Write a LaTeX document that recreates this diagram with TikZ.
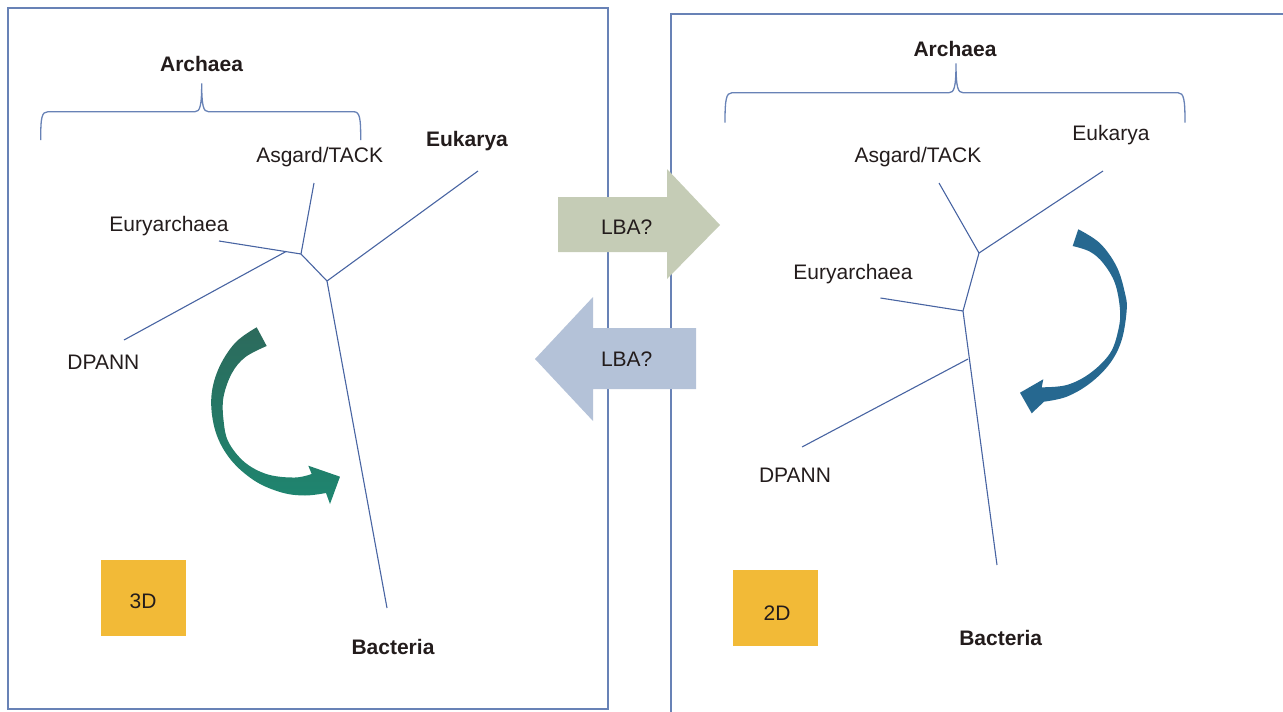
\documentclass[tikz,border=0pt]{standalone}
\usepackage{fontspec}
\setmainfont{Liberation Sans}
\definecolor{framec}{RGB}{104,130,182}
\definecolor{branchc}{RGB}{72,100,162}
\definecolor{lbagreen}{RGB}{197,204,182}
\definecolor{lbablue}{RGB}{180,194,216}
\definecolor{yelc}{RGB}{242,186,55}
\definecolor{tealtop}{RGB}{44,106,92}
\definecolor{tealbot}{RGB}{30,134,112}
\definecolor{arrblue}{RGB}{38,104,144}
\definecolor{txtc}{RGB}{35,28,28}
\begin{document}
\begin{tikzpicture}[x=1pt,y=-1pt,
  framestyle/.style={draw=framec,line width=1.5pt},
  branch/.style={draw=branchc,line width=1.1pt},
  bracestyle/.style={draw=framec,line width=1.3pt},
  lbl/.style={font=\fontsize{21}{25}\selectfont,text=txtc,inner sep=0pt,anchor=base},
  blbl/.style={lbl,font=\fontsize{21}{25}\selectfont\bfseries},
  sq/.style={fill=yelc,inner sep=0pt,minimum width=85pt,minimum height=76pt}]
\useasboundingbox (0,0) rectangle (1283,712);
% frames
\draw[framestyle] (8,8) rectangle (608,709);
\draw[framestyle] (671,713) -- (671,14) -- (1284,14);

% LBA arrows
\fill[lbagreen] (558,197) -- (667,197) -- (667,169) -- (720,225) -- (667,279) -- (667,252) -- (558,252) -- cycle;
\fill[lbablue] (696,328) -- (593,328) -- (593,297) -- (535,359) -- (593,421) -- (593,389) -- (696,389) -- cycle;
\node[lbl] (lbaR) at (626.7,234) {LBA?};
\node[lbl] (lbaL) at (626.7,366.7) {LBA?};

% ---------- left panel ----------
\coordinate (A) at (301,254);
\coordinate (B) at (327,281);
\coordinate (asgL) at (314,183);
\coordinate (euryL) at (219,241);
\coordinate (eukL) at (478,171);
\coordinate (dpLs) at (285.5,251.8);
\coordinate (dpL) at (124,340);
\coordinate (bacL) at (387,608);
\draw[branch] (asgL) -- (A);
\draw[branch] (euryL) -- (A);
\draw[branch] (A) -- (B);
\draw[branch] (eukL) -- (B);
\draw[branch] (B) -- (bacL);
\draw[branch] (dpLs) -- (dpL);

\draw[bracestyle] (40.7,140) .. controls (40.7,118) and (41.5,111.7) .. (48,111.7) -- (195,111.7)
  .. controls (200,111.7) and (201.7,106) .. (201.7,83.3)
  .. controls (201.7,106) and (203.4,111.7) .. (208.4,111.7) -- (353.4,111.7)
  .. controls (360,111.7) and (360.7,118) .. (360.7,140);

\node[blbl] (archL) at (201.6,71) {Archaea};
\node[lbl] (asgtL) at (319.7,162) {Asgard/TACK};
\node[blbl] (euktL) at (467,146.7) {Eukarya};
\node[lbl] (eurytL) at (169,231) {Euryarchaea};
\node[lbl] (dptL) at (103.4,369) {DPANN};
\node[blbl] (bactL) at (393,654) {Bacteria};

\node[sq] (sq3) at (143.5,598) {};
\node[lbl] (t3d) at (143,608) {3D};

% green curved arrow
\shade[top color=tealtop,bottom color=tealbot]
  plot[smooth,tension=0.6] coordinates {(256.7,327.3) (235,343) (218,370) (211.2,400) (216,433) (231,460) (255,481) (281.7,492.5) (305,495.5) (326,493)}
  -- (330,504) -- (340,476.7) -- (308.3,465.7) --
  plot[smooth,tension=0.6] coordinates {(311.7,474) (295,477.5) (268,474.5) (245,462.5) (228.5,442) (223.5,420) (223.5,397) (232,373) (245.5,357) (266.7,346)}
  -- cycle;

% ---------- right panel ----------
\coordinate (C) at (979,253);
\coordinate (D) at (963,311);
\coordinate (asgR) at (939,183);
\coordinate (eukR) at (1103,171);
\coordinate (euryR) at (880.5,298);
\coordinate (bacR) at (997,565);
\coordinate (dpRs) at (968,359);
\coordinate (dpR) at (802,447);
\draw[branch] (asgR) -- (C);
\draw[branch] (eukR) -- (C);
\draw[branch] (C) -- (D);
\draw[branch] (euryR) -- (D);
\draw[branch] (D) -- (bacR);
\draw[branch] (dpRs) -- (dpR);

\draw[bracestyle] (725,122.7) .. controls (725,100) and (726,92.7) .. (732,92.7) -- (949,92.7)
  .. controls (954,92.7) and (956,88) .. (956,63.3)
  .. controls (956,88) and (958,92.7) .. (963,92.7) -- (1178,92.7)
  .. controls (1184,92.7) and (1185,100) .. (1185,122.7);

\node[blbl] (archR) at (955,56) {Archaea};
\node[lbl] (euktR) at (1111,140) {Eukarya};
\node[lbl] (asgtR) at (918,162) {Asgard/TACK};
\node[lbl] (eurytR) at (853,279) {Euryarchaea};
\node[lbl] (dptR) at (795,482.7) {DPANN};
\node[blbl] (bactR) at (1000.7,645.7) {Bacteria};

\node[sq] (sq2) at (775,608) {};
\node[lbl] (t2d) at (777,620) {2D};

% blue curved arrow
\fill[arrblue]
  plot[smooth,tension=0.6] coordinates {(1078.3,229.3) (1100,243.3) (1116.7,266.7) (1125,293.3) (1126.7,310) (1121.7,340) (1110,363.3) (1090,383.3) (1066.7,396.7) (1044,401.7)}
  -- (1031.7,413.3) -- (1020,392.7) -- (1043.3,379.3) --
  plot[smooth,tension=0.6] coordinates {(1041.7,387.3) (1066.7,385) (1090,373.3) (1110,353.3) (1118.3,330) (1120,310) (1115,283.3) (1103.3,263.3) (1090,251.7) (1072.7,246)}
  -- cycle;
\end{tikzpicture}
\end{document}
